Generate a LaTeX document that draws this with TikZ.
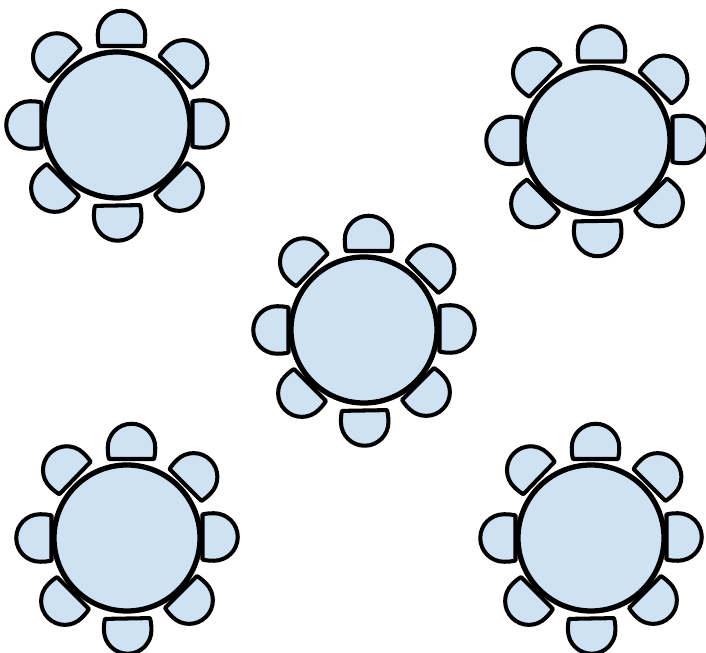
\documentclass[tikz,border=0pt]{standalone}
\definecolor{tablefill}{HTML}{CFE2F3}
\tikzset{
    tabletop/.style={circle, draw=black, fill=tablefill, line width=3pt, minimum size=2.92cm, inner sep=0},
    chairseat/.style={draw=black, fill=tablefill, line width=2.3pt, line join=round}
}
% Silla: lado recto sobre el origen, respaldo hacia arriba
\newcommand{\chair}[3]{%
    \draw[chairseat, shift={(#1,#2)}, rotate=#3]
        (-0.45,0) .. controls (-0.47,0.07) and (-0.475,0.15) .. (-0.475,0.23)
        arc[start angle=180, end angle=0, radius=0.475]
        .. controls (0.475,0.15) and (0.47,0.07) .. (0.45,0) -- cycle;
}
\begin{document}
\begin{tikzpicture}

% Marco de la figura (706x653 px, 1 px = 0.02)
\useasboundingbox (0,0) rectangle (14.12,13.06);

% ============================================
% MESAS CON OCHO SILLAS
% ============================================
\foreach \name/\cx/\cy in {tableA/2.34/10.56, tableB/11.94/10.25, tableC/7.28/6.46, tableD/2.54/2.30, tableE/11.82/2.30} {
    % Sillas: desplazamiento respecto al centro y giro
    \foreach \dx/\dy/\rot in {
        0.09/1.58/0,      1.17/1.06/-45,
        1.51/0.02/-90,    1.08/-1.08/-135,
        0.01/-1.61/181,   -1.08/-1.10/135,
        -1.51/0/90,       -1.04/1.20/46} {
        \chair{\cx+\dx}{\cy+\dy}{\rot}
    }
    % Mesa
    \node[tabletop] (\name) at (\cx,\cy) {};
}

\end{tikzpicture}
\end{document}
